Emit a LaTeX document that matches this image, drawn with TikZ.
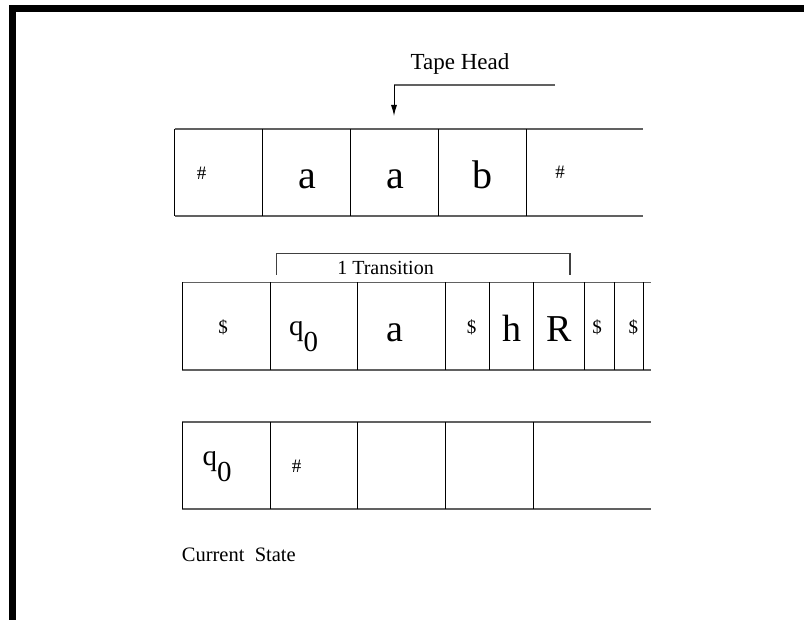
\documentclass[tikz,border=0pt]{standalone}
\usepackage{fontspec}
\setmainfont{Liberation Serif}
\usetikzlibrary{arrows.meta}
\begin{document}
\begin{tikzpicture}[x=1pt,y=-1pt,
  hline/.style={draw=black!62, line width=1.4pt},
  vline/.style={draw=black, line width=1pt},
  big/.style={font=\fontsize{40}{40}\selectfont, anchor=base, inner sep=0pt},
  mid/.style={font=\fontsize{38}{38}\selectfont, anchor=base, inner sep=0pt},
  qsym/.style={font=\fontsize{29}{29}\selectfont, anchor=base, inner sep=0pt},
  small/.style={font=\fontsize{19}{19}\selectfont, anchor=base, inner sep=0pt},
  lbl/.style={font=\fontsize{20}{20}\selectfont, anchor=base, inner sep=0pt}]
\useasboundingbox (0,0) rectangle (804,620);
% frame bars
\fill[black] (9,5) rectangle (804,12);
\fill[black] (9,5) rectangle (16,620);

% tape head
\node[lbl, font=\fontsize{23}{23}\selectfont] (headlbl) at (460,70) {Tape Head};
\coordinate (hs) at (555,85);
\coordinate (hc) at (394,85);
\coordinate (ht) at (394,116);
\draw[hline] (hs) -- (hc);
\draw[vline, -{Latex[length=11pt,width=6pt]}] (hc) -- (ht);

% tape 1
\draw[hline] (174.5,129) -- (643,129);
\draw[hline] (174.5,216) -- (643,216);
\foreach \x in {174.5,262.5,350.5,438.5,526} \draw[vline] (\x,129) -- (\x,216);
\node[small] (t1c1) at (201.7,180) {\#};
\node[big] (t1c2) at (307,189) {a};
\node[big] (t1c3) at (395,189) {a};
\node[big] (t1c4) at (482,189) {b};
\node[small] (t1c5) at (560,179) {\#};

% bracket
\coordinate (bl) at (276.7,275);
\coordinate (blt) at (276.7,253.3);
\coordinate (brt) at (570,253.3);
\coordinate (br) at (570,275);
\draw[draw=black!75, line width=1.1pt] (bl) -- (blt) -- (brt) -- (br);
\node[lbl] (trans) at (385.5,275) {1 Transition};

% tape 2
\draw[hline] (182.3,282.5) -- (650.5,282.5);
\draw[hline] (182.3,370) -- (650.5,370);
\foreach \x in {182.3,270,357.7,445.7,489.3,533.3,584.3,614,643.3} \draw[vline] (\x,282.5) -- (\x,370);
\node[small] (t2c1) at (223,334) {\$};
\node[qsym] (t2c2) at (303.5,336) {q\raisebox{-16pt}{0}};
\node[mid] (t2c3) at (395,342) {a};
\node[small] (t2c4) at (471.7,334) {\$};
\node[mid] (t2c5) at (511.7,342) {h};
\node[mid] (t2c6) at (559,342) {R};
\node[small] (t2c7) at (597,334) {\$};
\node[small] (t2c8) at (633.3,334) {\$};

% tape 3
\draw[hline] (182,422) -- (650.7,422);
\draw[hline] (182,509) -- (650.7,509);
\foreach \x in {182,270,357.7,445.7,533.3} \draw[vline] (\x,422) -- (\x,509);
\node[qsym] (t3c1) at (217,466) {q\raisebox{-16pt}{0}};
\node[small] (t3c2) at (296.7,472.7) {\#};

\node[lbl, font=\fontsize{20.5}{20.5}\selectfont, anchor=base west] (cur) at (181.7,561.7) {Current~ State};
\end{tikzpicture}
\end{document}
